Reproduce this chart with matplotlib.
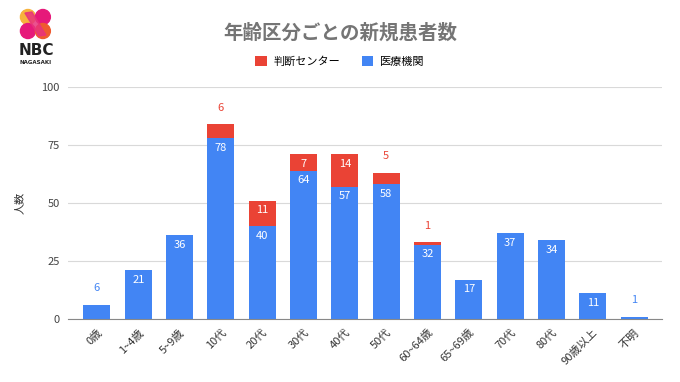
import matplotlib
matplotlib.use("Agg")
import matplotlib.pyplot as plt
from matplotlib.patches import Circle, Polygon
import numpy as np

plt.rcParams["font.family"] = ["Noto Sans CJK JP", "DejaVu Sans"]

categories = ["0歳", "1~4歳", "5~9歳", "10代", "20代", "30代", "40代", "50代",
              "60~64歳", "65~69歳", "70代", "80代", "90歳以上", "不明"]
iryo = [6, 21, 36, 78, 40, 64, 57, 58, 32, 17, 37, 34, 11, 1]
handan = [0, 0, 0, 6, 11, 7, 14, 5, 1, 0, 0, 0, 0, 0]
yticks = [0, 25, 50, 75, 100]

BLUE = "#4285F4"
RED = "#EA4335"

fig = plt.figure(figsize=(6.8, 3.82), dpi=100)
ax = fig.add_axes([0.1, 0.165, 0.874, 0.607])

x = np.arange(len(categories))
w = 0.65
ax.bar(x, iryo, w, color=BLUE, zorder=2, label="医療機関")
ax.bar(x, handan, w, bottom=iryo, color=RED, zorder=2, label="判断センター")

# value labels
for i in range(len(x)):
    b = iryo[i]
    if b >= 10:
        ax.text(x[i], b - 2, str(b), ha="center", va="top", color="white", fontsize=8)
    else:
        ax.text(x[i], b + 5, str(b), ha="center", va="bottom", color=BLUE, fontsize=8)
    r = handan[i]
    if r == 0:
        continue
    if r >= 7:
        ax.text(x[i], b + r - 2, str(r), ha="center", va="top", color="white", fontsize=8)
    else:
        ax.text(x[i], b + r + 5, str(r), ha="center", va="bottom", color=RED, fontsize=8)

ax.set_xlim(-0.70, 13.68)
ax.set_ylim(0, 100)
ax.set_yticks(yticks)
ax.set_yticklabels([str(t) for t in yticks], fontsize=8, color="#444444")
ax.set_xticks(x)
ax.set_xticklabels(categories, rotation=45, ha="right", rotation_mode="anchor",
                   fontsize=8, color="#333333")
ax.tick_params(axis="both", length=0, pad=6)
ax.grid(axis="y", color="#d9d9d9", linewidth=0.8, zorder=0)
for s in ["top", "right", "left"]:
    ax.spines[s].set_visible(False)
ax.spines["bottom"].set_color("#888888")
ax.spines["bottom"].set_zorder(3)
ax.set_ylabel("人数", fontsize=8, color="#333333", labelpad=12)

fig.text(0.5, 0.913, "年齢区分ごとの新規患者数", ha="center", va="center",
         fontsize=14, fontweight="bold", color="#757575")

handles, labels = ax.get_legend_handles_labels()
fig.legend(handles[::-1], labels[::-1], loc="center", bbox_to_anchor=(0.5, 0.838),
           ncol=2, frameon=False, fontsize=8, handlelength=1.0, handleheight=1.0,
           columnspacing=2.0, handletextpad=0.6)

# logo
lax = fig.add_axes([0, 0.78, 0.11, 0.22])
lax.set_xlim(0, 75)
lax.set_ylim(84, 0)
lax.axis("off")
lax.add_patch(Circle((28, 17), 7.5, color="#f7b33d"))
lax.add_patch(Circle((43, 17), 7.5, color="#e6197a"))
lax.add_patch(Circle((28, 31), 7.5, color="#e6197a"))
lax.add_patch(Circle((43, 31), 7.5, color="#ef5a2f"))
lax.add_patch(Polygon([[25, 13], [32, 12], [46, 35], [39, 36]], color="#e8327c", alpha=0.85))
lax.text(36, 50, "NBC", ha="center", va="center", fontsize=11, fontweight="bold",
         color="#222222", family="DejaVu Sans")
lax.text(36, 62, "NAGASAKI", ha="center", va="center", fontsize=4, fontweight="bold",
         color="#222222", family="DejaVu Sans")

fig.savefig("out.png", dpi=100)
